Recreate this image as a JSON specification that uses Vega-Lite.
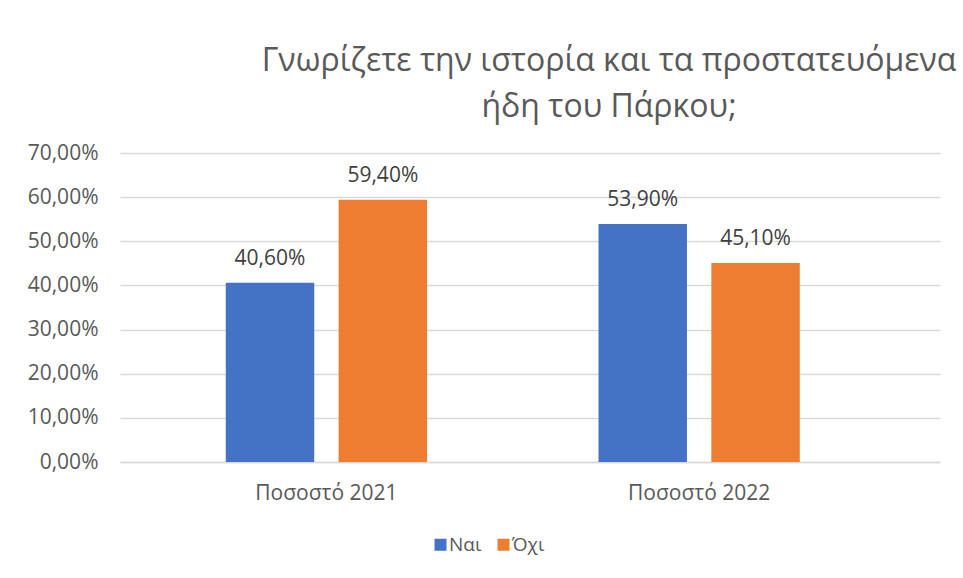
{
  "$schema": "https://vega.github.io/schema/vega-lite/v6.json",
  "autosize": {"type": "none"},
  "width": 820,
  "height": 309,
  "padding": {"left": 120, "top": 153, "right": 23, "bottom": 116},
  "background": "white",
  "title": {
    "text": ["Γνωρίζετε την ιστορία και τα προστατευόμενα", "ήδη του Πάρκου;"],
    "anchor": "middle",
    "dx": 79,
    "fontSize": 32,
    "fontWeight": "normal",
    "color": "#595959",
    "lineHeight": 46,
    "offset": 18,
    "font": "Open Sans"
  },
  "data": {
    "values": [
      {"category": "Ποσοστό 2021", "answer": "Ναι", "value": 0.406},
      {"category": "Ποσοστό 2021", "answer": "Όχι", "value": 0.594},
      {"category": "Ποσοστό 2022", "answer": "Ναι", "value": 0.539},
      {"category": "Ποσοστό 2022", "answer": "Όχι", "value": 0.451}
    ]
  },
  "encoding": {
    "x": {
      "field": "category",
      "type": "nominal",
      "title": null,
      "scale": {"paddingInner": 0.46, "paddingOuter": 0.33, "align": 0.43},
      "axis": {"labelAngle": 0, "labelPadding": 20, "labelFontSize": 21, "labelColor": "#595959", "ticks": false, "domainColor": "#D9D9D9", "domainWidth": 1.5}
    },
    "xOffset": {
      "field": "answer",
      "type": "nominal",
      "sort": ["Ναι", "Όχι"],
      "scale": {"paddingInner": 0.216, "paddingOuter": 0}
    },
    "y": {
      "field": "value",
      "type": "quantitative",
      "title": null,
      "scale": {"domain": [0, 0.7]},
      "axis": {"format": ".2%", "values": [0, 0.1, 0.2, 0.3, 0.4, 0.5, 0.6, 0.7], "labelOverlap": false, "labelFontSize": 21, "labelColor": "#595959", "domain": false, "ticks": false, "labelPadding": 22, "gridColor": "#D9D9D9", "gridWidth": 1.5}
    }
  },
  "layer": [
    {
      "mark": {"type": "bar"},
      "encoding": {
        "color": {
          "field": "answer",
          "type": "nominal",
          "scale": {"domain": ["Ναι", "Όχι"], "range": ["#4472C4", "#ED7D31"]},
          "legend": {
            "title": null,
            "orient": "none",
            "direction": "horizontal",
            "legendX": 311,
            "legendY": 382,
            "symbolType": "square",
            "symbolSize": 144,
            "symbolStrokeWidth": 0,
            "labelFontSize": 19,
            "labelColor": "#595959",
            "columnPadding": 12,
            "labelOffset": -1
          }
        }
      }
    },
    {
      "mark": {"type": "text", "baseline": "alphabetic", "dy": -18, "fontSize": 21, "color": "#404040"},
      "encoding": {
        "text": {"field": "value", "type": "quantitative", "format": ".2%"}
      }
    }
  ],
  "config": {
    "font": "Open Sans",
    "locale": {"number": {"decimal": ",", "thousands": ".", "grouping": [3], "currency": ["", " €"], "percent": "%"}},
    "view": {"stroke": null}
  }
}
